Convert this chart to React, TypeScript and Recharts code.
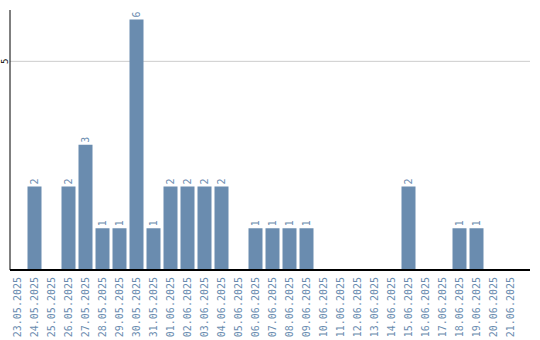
import { BarChart, Bar, XAxis, YAxis, CartesianGrid, LabelList } from 'recharts';

const dates = [
  '23.05.2025', '24.05.2025', '25.05.2025', '26.05.2025', '27.05.2025', '28.05.2025',
  '29.05.2025', '30.05.2025', '31.05.2025', '01.06.2025', '02.06.2025', '03.06.2025',
  '04.06.2025', '05.06.2025', '06.06.2025', '07.06.2025', '08.06.2025', '09.06.2025',
  '10.06.2025', '11.06.2025', '12.06.2025', '13.06.2025', '14.06.2025', '15.06.2025',
  '16.06.2025', '17.06.2025', '18.06.2025', '19.06.2025', '20.06.2025', '21.06.2025',
];

const counts = [
  0, 2, 0, 2, 3, 1,
  1, 6, 1, 2, 2, 2,
  2, 0, 1, 1, 1, 1,
  0, 0, 0, 0, 0, 2,
  0, 0, 1, 1, 0, 0,
];

const yTicks = [5];

const data = dates.map((d, i) => ({ date: d, count: counts[i] }));

const BLUE = '#6a8caf';
const FONT = '"DejaVu Sans Mono", monospace';

function DateTick(props: any) {
  const { x, y, payload } = props;
  return (
    <text
      x={x}
      y={y}
      transform={`rotate(-90, ${x}, ${y})`}
      textAnchor="end"
      dy="0.35em"
      fill={BLUE}
      fontSize={10}
      fontFamily={FONT}
    >
      {payload.value}
    </text>
  );
}

function CountTick(props: any) {
  const { x, y, payload } = props;
  return (
    <text
      x={x}
      y={y}
      transform={`rotate(-90, ${x}, ${y})`}
      textAnchor="middle"
      dy="0.35em"
      fill="#000"
      fontSize={9}
      fontFamily={FONT}
    >
      {payload.value}
    </text>
  );
}

function ValueLabel(props: any) {
  const { x, y, width, value } = props;
  if (!value) return null;
  const cx = x + width / 2;
  const cy = y - 2;
  return (
    <text
      x={cx}
      y={cy}
      transform={`rotate(-90, ${cx}, ${cy})`}
      textAnchor="start"
      dy="0.35em"
      fill={BLUE}
      fontSize={10}
      fontFamily={FONT}
    >
      {value}
    </text>
  );
}

export default function App() {
  return (
    <div style={{ position: 'absolute', left: 0, top: 0 }}>
      <BarChart
        width={540}
        height={340}
        data={data}
        margin={{ top: 10, right: 10, bottom: 0, left: 0 }}
        barCategoryGap={0}
      >
        <CartesianGrid vertical={false} stroke="#cccccc" horizontalValues={yTicks} />
        <XAxis
          dataKey="date"
          interval={0}
          height={70}
          tick={<DateTick />}
          tickLine={false}
          tickSize={5}
          padding={{ left: -1.5, right: 11.5 }}
          axisLine={{ stroke: '#000', strokeWidth: 2 }}
        />
        <YAxis
          width={10}
          domain={[0, 6.23]}
          ticks={yTicks}
          tick={<CountTick />}
          tickLine={false}
          tickSize={3}
          tickMargin={2}
          axisLine={{ stroke: '#000', strokeWidth: 1 }}
        />
        <Bar dataKey="count" fill={BLUE} barSize={14} isAnimationActive={false}>
          <LabelList dataKey="count" content={<ValueLabel />} />
        </Bar>
      </BarChart>
    </div>
  );
}
